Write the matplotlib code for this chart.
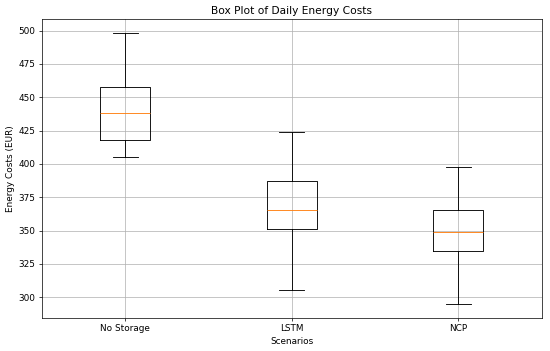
import matplotlib
matplotlib.use("Agg")
import matplotlib.pyplot as plt

scenarios = ["No Storage", "LSTM", "NCP"]
whis_lo = [405.3, 305.3, 294.7]
q1 = [418.0, 351.0, 334.6]
med = [438.3, 365.4, 349.0]
q3 = [457.9, 387.0, 365.4]
whis_hi = [498.5, 424.0, 397.7]

stats = []
for i in range(len(scenarios)):
    stats.append({"label": scenarios[i], "whislo": whis_lo[i], "q1": q1[i],
                  "med": med[i], "q3": q3[i], "whishi": whis_hi[i], "fliers": []})

fig, ax = plt.subplots(figsize=(550 / 64, 351 / 64), dpi=64)
ax.bxp(stats, showfliers=False)
ax.set_title("Box Plot of Daily Energy Costs")
ax.set_xlabel("Scenarios")
ax.set_ylabel("Energy Costs (EUR)")
ax.grid()
fig.subplots_adjust(left=0.076, right=0.985, bottom=0.094, top=0.946)
fig.savefig("out.png")
